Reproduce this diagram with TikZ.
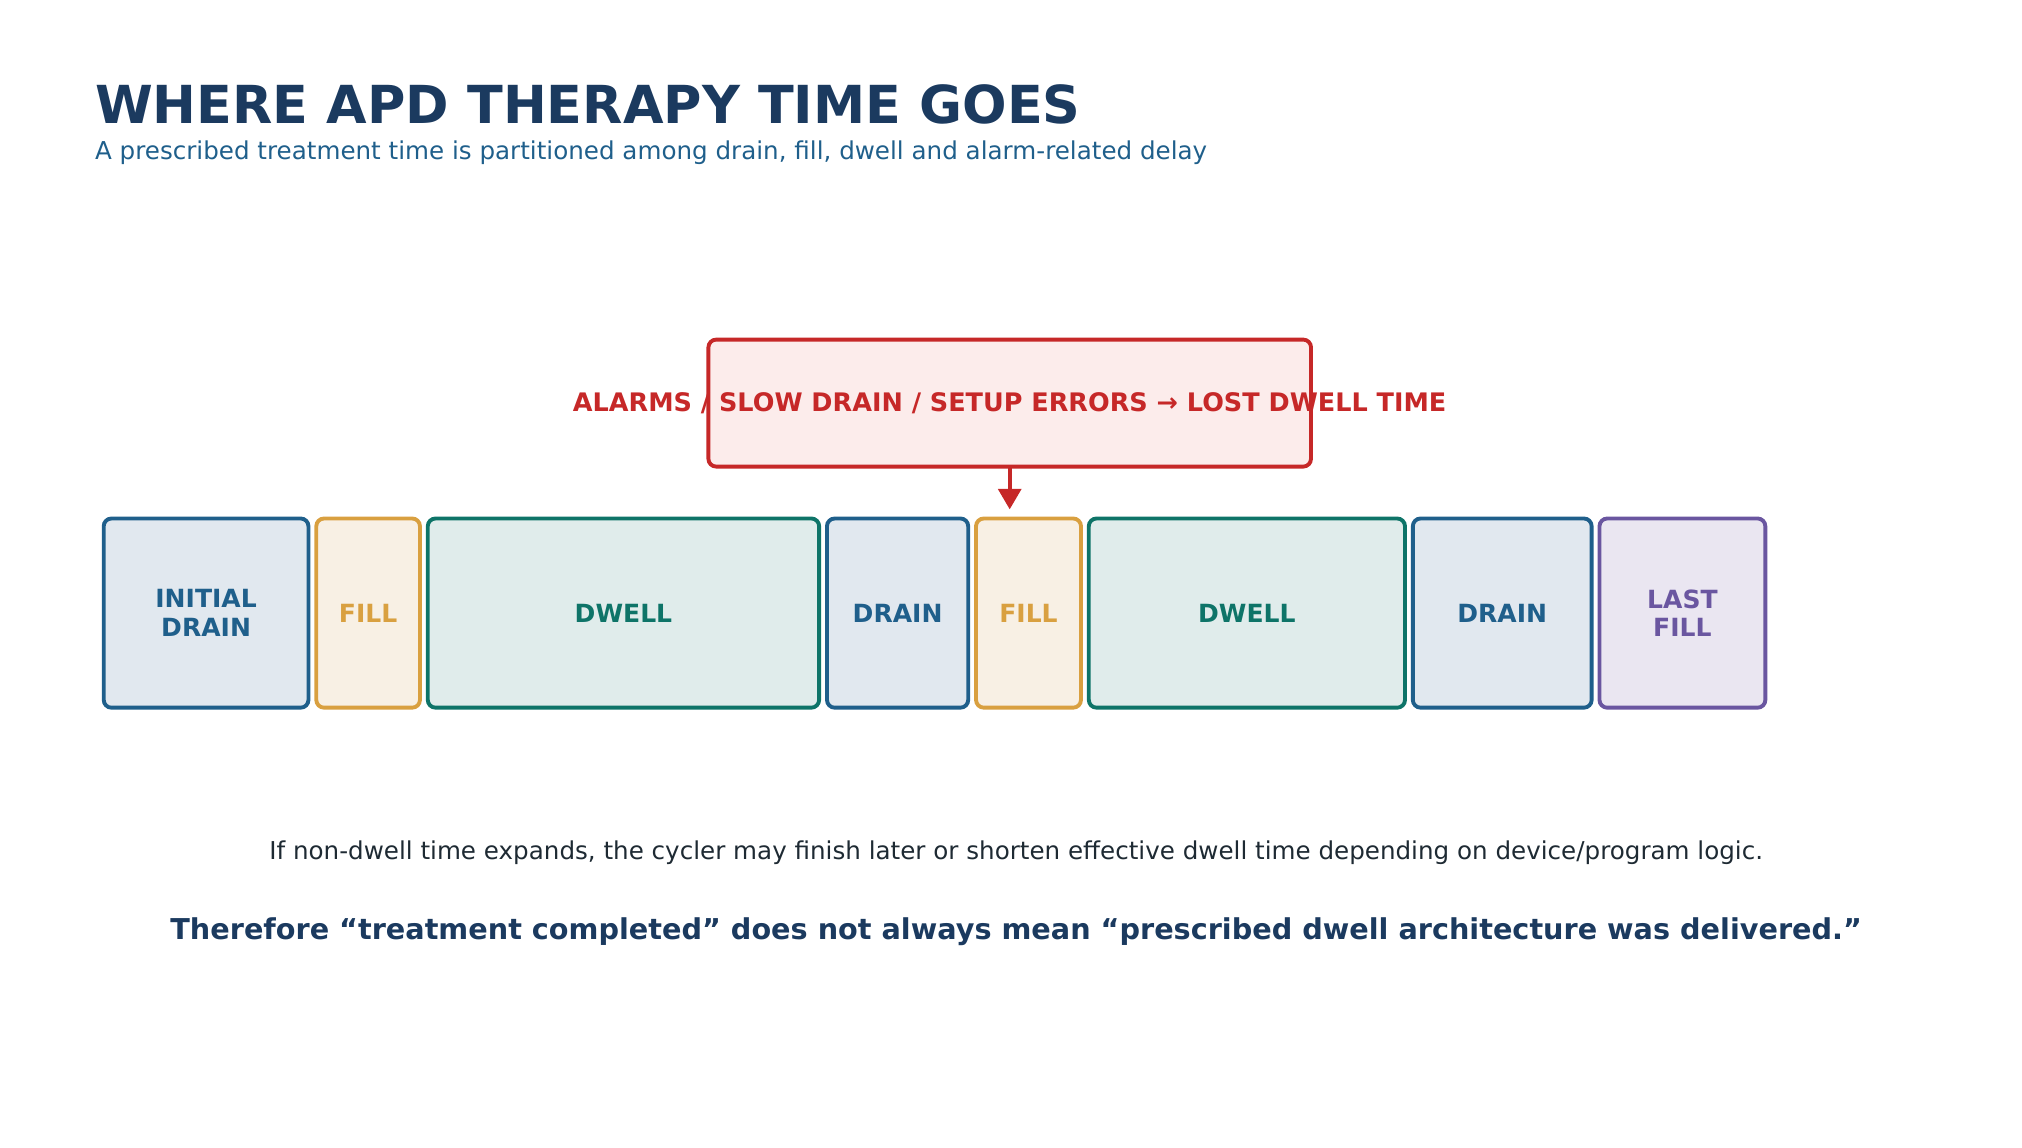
\documentclass[tikz,border=0pt]{standalone}
\usepackage{fontspec}
\setmainfont{DejaVu Sans}
\usetikzlibrary{positioning,arrows.meta}
\definecolor{navy}{HTML}{1B3A5F}
\definecolor{subblue}{HTML}{1F5F8B}
\definecolor{drainc}{HTML}{1F5F8B}
\definecolor{drainf}{HTML}{E1E8EF}
\definecolor{fillc}{HTML}{D9A040}
\definecolor{fillf}{HTML}{F8F0E4}
\definecolor{dwellc}{HTML}{0E7468}
\definecolor{dwellf}{HTML}{E0ECEB}
\definecolor{lastc}{HTML}{6A56A0}
\definecolor{lastf}{HTML}{EAE6F1}
\definecolor{alarmc}{HTML}{C62828}
\definecolor{alarmf}{HTML}{FCECEB}
\definecolor{bodytxt}{HTML}{1E2A33}
\tikzset{
  seg/.style={draw=#1c, fill=#1f, text=#1c, line width=1.7pt, rounded corners=0.12cm,
    minimum height=2.92cm, inner sep=0pt, align=center, font=\fontsize{11}{12.5}\selectfont\bfseries},
}
\begin{document}
\begin{tikzpicture}[x=0.02cm,y=-0.02cm]
  \useasboundingbox (0,0) rectangle (1560,885);
  \node[anchor=base west, text=navy, font=\fontsize{23}{26}\selectfont\bfseries, inner sep=0pt] (title) at (73,95) {WHERE APD THERAPY TIME GOES};
  \node[anchor=base west, text=subblue, font=\fontsize{10.8}{13}\selectfont, inner sep=0pt] (sub) at (73,123) {A prescribed treatment time is partitioned among drain, fill, dwell and alarm-related delay};

  \node[draw=alarmc, fill=alarmf, line width=1.7pt, rounded corners=0.12cm, minimum width=9.3cm, minimum height=1.96cm, inner sep=0pt] (alarm) at (779,311) {};
  \node[text=alarmc, font=\fontsize{11.2}{13}\selectfont\bfseries] (alarmtxt) at (779,311) {ALARMS / SLOW DRAIN / SETUP ERRORS → LOST DWELL TIME};
  \coordinate (tip) at (779,393);
  \draw[alarmc, line width=1.7pt, -{Triangle[length=9pt,width=10pt]}] (alarm.south) ++(0,-0.06) -- (tip);

  \node[seg=drain, minimum width=3.16cm] (idrain) at (159,473) {INITIAL\\DRAIN};
  \node[seg=fill, minimum width=1.6cm] (fill1) at (284,473) {FILL};
  \node[seg=dwell, minimum width=6.04cm] (dwell1) at (481,473) {DWELL};
  \node[seg=drain, minimum width=2.18cm] (drain1) at (692.5,473) {DRAIN};
  \node[seg=fill, minimum width=1.62cm] (fill2) at (793.5,473) {FILL};
  \node[seg=dwell, minimum width=4.88cm] (dwell2) at (962,473) {DWELL};
  \node[seg=drain, minimum width=2.76cm] (drain2) at (1159,473) {DRAIN};
  \node[seg=last, minimum width=2.56cm] (lfill) at (1298,473) {LAST\\FILL};

  \node[text=bodytxt, font=\fontsize{10.8}{13}\selectfont] (note) at (784,658) {If non-dwell time expands, the cycler may finish later or shorten effective dwell time depending on device/program logic.};
  \node[text=navy, font=\fontsize{12.6}{15}\selectfont\bfseries] (concl) at (784,719) {Therefore “treatment completed” does not always mean “prescribed dwell architecture was delivered.”};
\end{tikzpicture}
\end{document}
